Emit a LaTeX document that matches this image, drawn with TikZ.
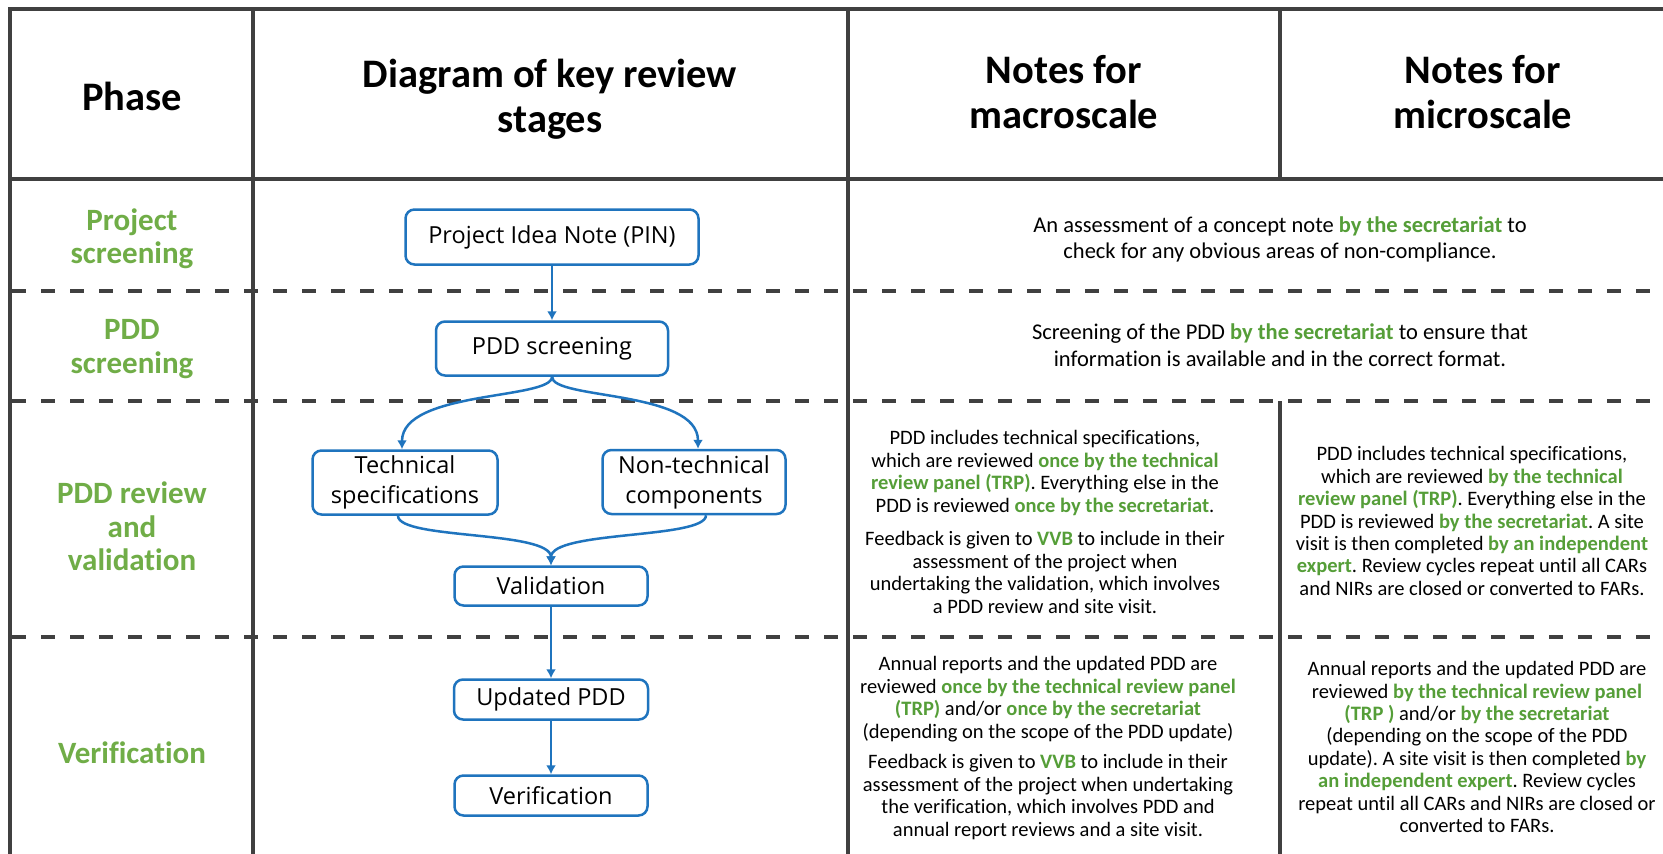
\documentclass[tikz,border=0pt]{standalone}
\usepackage{fontspec}
\setmainfont{Carlito}[Ligatures=NoCommon]
\newfontfamily\boxfont{Open Sans}[Ligatures=NoCommon]
\usetikzlibrary{arrows.meta}

\definecolor{rule}{HTML}{404040}
\definecolor{flow}{HTML}{1F74BE}
\definecolor{phasegreen}{HTML}{70AD47}
\definecolor{notegreen}{HTML}{559E38}

% highlighted reviewer phrases
\newcommand{\hl}[1]{{\color{notegreen}\bfseries #1}}
\frenchspacing

\begin{document}
\begin{tikzpicture}[x=1pt,y=-1pt,
  solidrule/.style={draw=rule,line width=3.5pt},
  dashrule/.style={draw=rule,line width=4pt,dash pattern=on 14pt off 15pt},
  headtext/.style={font=\fontsize{40.5}{45}\selectfont\bfseries,align=center,inner sep=0pt},
  phasetext/.style={font=\fontsize{31}{33.5}\selectfont\bfseries,text=phasegreen,align=center,inner sep=0pt},
  widenote/.style={font=\fontsize{22.5}{26.5}\selectfont,align=center,inner sep=0pt},
  notetext/.style={font=\fontsize{20.5}{22.4}\selectfont,align=center,inner sep=0pt},
  stagebox/.style={draw=flow,line width=2.5pt,rounded corners=9pt,fill=white,
    font=\boxfont\fontsize{23.5}{30}\selectfont,align=center,inner sep=0pt},
  flowline/.style={draw=flow,line width=2.5pt,-{Latex[length=9pt,width=10pt]}},
]
% canvas
\fill[white] (0,0) rectangle (1663,854);
\useasboundingbox (0,0) rectangle (1663,854);

% table frame
\draw[solidrule] (1663,9) -- (10,9) -- (10,854);
\draw[solidrule] (253,9) -- (253,854);
\draw[solidrule] (848,9) -- (848,854);
\draw[solidrule] (1280,9) -- (1280,179);
\draw[solidrule] (1280,401) -- (1280,854);
\draw[solidrule] (10,179) -- (1663,179);
\draw[dashrule] (12,291) -- (1663,291);
\draw[dashrule] (12,401) -- (1663,401);
\draw[dashrule] (12,637) -- (1663,637);

% column headings
\node[headtext] (hphase) at (132,96) {Phase};
\node[headtext] (hdiag) at (550,99) {Diagram of key review\\stages};
\node[headtext] (hmacro) at (1064,92.5) {Notes for\\macroscale};
\node[headtext] (hmicro) at (1483,92.5) {Notes for\\microscale};

% phases
\node[phasetext] (p1) at (132,238.5) {Project\\screening};
\node[phasetext] (p2) at (132,349) {PDD\\screening};
\node[phasetext] (p3) at (132,526.5) {PDD review\\and\\validation};
\node[phasetext] (p4) at (132,753) {Verification};

% review stages
\node[stagebox,minimum width=293pt,minimum height=55pt] (pin) at (552,237) {Project Idea Note (PIN)};
\node[stagebox,minimum width=232pt,minimum height=54pt] (scr) at (552,348.5) {PDD screening};
\node[stagebox,minimum width=185pt,minimum height=64pt] (tech) at (405,482.5) {Technical\\specifications};
\node[stagebox,minimum width=183pt,minimum height=64pt] (nontech) at (694,482) {Non-technical\\components};
\node[stagebox,minimum width=193pt,minimum height=39pt] (val) at (551,586) {Validation};
\node[stagebox,minimum width=194pt,minimum height=40pt] (upd) at (551,699.5) {Updated PDD};
\node[stagebox,minimum width=193pt,minimum height=40pt] (ver) at (551,795.5) {Verification};

\draw[flowline] (pin) -- (scr);
\draw[flowline] (scr.south) .. controls +(0,23) and +(0,-59) .. ([xshift=-3pt]tech.north);
\draw[flowline] (scr.south) .. controls +(0,23) and +(0,-59) .. ([xshift=4pt]nontech.north);
\draw[flowline] ([xshift=-7pt]tech.south) .. controls +(0,24) and +(0,-35) .. (val.north);
\draw[flowline] ([xshift=12pt]nontech.south) .. controls +(0,24) and +(0,-35) .. (val.north);
\draw[flowline] (val) -- (upd);
\draw[flowline] (upd) -- (ver);

% notes
\node[widenote] (n1) at (1280,239.5) {An assessment of a concept note \hl{by the secretariat} to\\check for any obvious areas of non-compliance.};
\node[widenote] (n2) at (1280,345) {Screening of the PDD \hl{by the secretariat} to ensure that\\information is available and in the correct format.};

\node[notetext] (n3a) at (1045,522) {PDD includes technical specifications,\\
which are reviewed \hl{once by the technical}\\
\hl{review panel (TRP)}. Everything else in the\\
PDD is reviewed \hl{once by the secretariat}.\\[11.5pt]
Feedback is given to \hl{VVB} to include in their\\
assessment of the project when\\
undertaking the validation, which involves\\
a PDD review and site visit.};

\node[notetext] (n3b) at (1472,521) {PDD includes technical specifications,\\
which are reviewed \hl{by the technical}\\
\hl{review panel (TRP)}. Everything else in the\\
PDD is reviewed \hl{by the secretariat}. A site\\
visit is then completed \hl{by an independent}\\
\hl{expert}. Review cycles repeat until all CARs\\
and NIRs are closed or converted to FARs.};

\node[notetext] (n4a) at (1048,748) {Annual reports and the updated PDD are\\
reviewed \hl{once by the technical review panel}\\
\hl{(TRP)} and/or \hl{once by the secretariat}\\
(depending on the scope of the PDD update)\\[8.5pt]
Feedback is given to \hl{VVB} to include in their\\
assessment of the project when undertaking\\
the verification, which involves PDD and\\
annual report reviews and a site visit.};

\node[notetext] (n4b) at (1477,747) {Annual reports and the updated PDD are\\
reviewed \hl{by the technical review panel}\\
\hl{(TRP )} and/or \hl{by the secretariat}\\
(depending on the scope of the PDD\\
update). A site visit is then completed \hl{by}\\
\hl{an independent expert}. Review cycles\\
repeat until all CARs and NIRs are closed or\\
converted to FARs.};
\end{tikzpicture}
\end{document}
